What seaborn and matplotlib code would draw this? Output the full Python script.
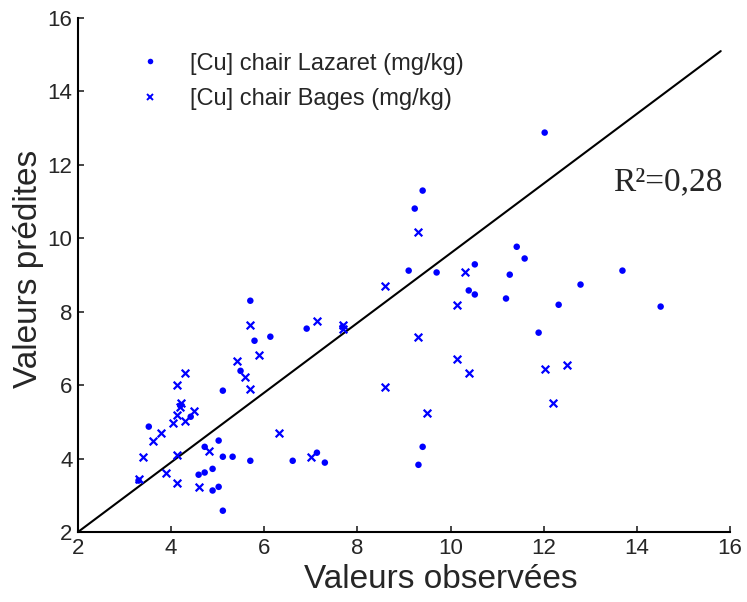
import matplotlib
matplotlib.use("Agg")
import matplotlib.pyplot as plt
import seaborn as sns
import pandas as pd
from matplotlib.lines import Line2D

# [Cu] chair Lazaret (observed, predicted)
laz_obs = [5.70, 5.79, 6.13, 6.91, 5.11, 5.49, 4.42, 4.20, 3.52, 4.72, 5.02, 5.11,
           5.32, 5.70, 6.61, 7.13, 7.30, 4.89, 4.72, 4.59, 4.89, 5.02, 5.11, 3.30,
           7.68, 12.02, 9.40, 9.23, 9.10, 9.70, 10.52, 10.39, 10.52, 11.42, 11.59,
           11.27, 11.19, 11.89, 12.79, 13.69, 12.32, 14.51, 9.40, 9.31]
laz_pred = [8.30, 7.21, 7.32, 7.54, 5.85, 6.39, 5.14, 5.45, 4.87, 4.32, 4.49, 4.05,
            4.05, 3.94, 3.94, 4.16, 3.89, 3.72, 3.62, 3.56, 3.13, 3.23, 2.58, 3.40,
            7.59, 12.88, 11.30, 10.81, 9.12, 9.07, 9.29, 8.58, 8.47, 9.77, 9.45,
            9.01, 8.36, 7.43, 8.74, 9.12, 8.19, 8.14, 4.32, 3.83]

# [Cu] chair Bages (observed, predicted)
bag_obs = [5.70, 5.88, 5.41, 5.58, 5.70, 4.29, 4.12, 4.21, 4.19, 4.12, 4.03, 4.29,
           4.50, 3.78, 3.60, 3.39, 4.12, 4.81, 3.90, 3.30, 4.12, 4.59, 6.31, 7.00,
           7.13, 7.68, 7.68, 9.31, 8.59, 10.30, 10.13, 9.31, 10.13, 10.39, 12.02,
           12.49, 12.19, 8.59, 9.49]
bag_pred = [7.65, 6.83, 6.67, 6.23, 5.90, 6.34, 6.01, 5.52, 5.41, 5.20, 4.98, 5.03,
            5.30, 4.70, 4.49, 4.05, 4.11, 4.21, 3.62, 3.45, 3.34, 3.23, 4.70, 4.05,
            7.76, 7.65, 7.54, 10.16, 8.69, 9.07, 8.19, 7.32, 6.72, 6.34, 6.45,
            6.56, 5.52, 5.96, 5.25]

# fitted line end points
line_x = [2.0, 15.8]
line_y = [2.0, 15.1]

ticks = [2, 4, 6, 8, 10, 12, 14, 16]
r2_text = "R\u00b2=0,28"

sns.set_style("ticks")
plt.rcParams['font.family'] = ['Liberation Sans', 'DejaVu Sans']
plt.rcParams['xtick.direction'] = 'in'
plt.rcParams['ytick.direction'] = 'in'

fig = plt.figure(figsize=(7.47, 6.02), dpi=100)
ax = fig.add_axes([0.1044, 0.1163, 0.8729, 0.8537])

df_laz = pd.DataFrame({"obs": laz_obs, "pred": laz_pred})
df_bag = pd.DataFrame({"obs": bag_obs, "pred": bag_pred})

sns.scatterplot(data=df_laz, x="obs", y="pred", ax=ax, marker="o", s=22,
                color="#0000ff", edgecolor="none", linewidth=0, zorder=3)
sns.scatterplot(data=df_bag, x="obs", y="pred", ax=ax, marker="x", s=30,
                color="#0000ff", linewidth=1.6, zorder=3)
ax.plot(line_x, line_y, color="black", linewidth=1.5, zorder=2)

ax.set_xlim(2, 16)
ax.set_ylim(2, 16)
ax.set_xticks(ticks)
ax.set_yticks(ticks)
ax.tick_params(labelsize=16, length=4, width=1.2, pad=4)
for side in ["left", "bottom"]:
    ax.spines[side].set_linewidth(1.5)
    ax.spines[side].set_color("black")
sns.despine(ax=ax)

ax.set_xlabel("Valeurs observées", fontsize=24)
ax.set_ylabel("Valeurs prédites", fontsize=24)
ax.xaxis.set_label_coords(0.557, -0.062)
ax.yaxis.set_label_coords(-0.052, 0.512)

ax.text(13.49, 11.53, r2_text, fontsize=24, family=['Liberation Serif', 'DejaVu Serif'],
        ha="left", va="center")

handles = [Line2D([], [], linestyle="none", marker="o", markersize=4, color="#0000ff",
                  markeredgewidth=0),
           Line2D([], [], linestyle="none", marker="x", markersize=4.5, color="#0000ff",
                  markeredgewidth=1.4)]
ax.legend(handles, ["[Cu] chair Lazaret (mg/kg)", "[Cu] chair Bages (mg/kg)"],
          loc="upper left", bbox_to_anchor=(0.042, 0.974), frameon=False, fontsize=17,
          handletextpad=0.7, labelspacing=0.57)

fig.savefig("out.png", dpi=100)
